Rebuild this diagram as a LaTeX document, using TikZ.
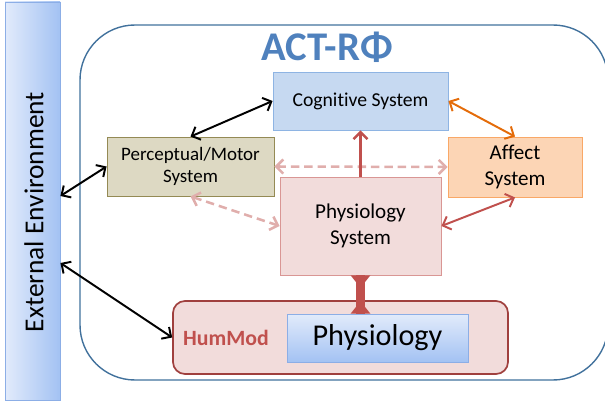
\documentclass[tikz,border=0pt]{standalone}
\usepackage{fontspec}
\setmainfont{Carlito}[Ligatures=NoCommon]
\usetikzlibrary{positioning, arrows.meta, calc}
\definecolor{envlight}{HTML}{E2EBFB}
\definecolor{envdark}{HTML}{A3C2F3}
\definecolor{envborder}{HTML}{8CAEE6}
\definecolor{frame}{HTML}{41719C}
\definecolor{titleblue}{HTML}{4F81BD}
\definecolor{cogfill}{HTML}{C6D9F1}
\definecolor{cogborder}{HTML}{8EB4E3}
\definecolor{pmfill}{HTML}{DDD9C3}
\definecolor{pmborder}{HTML}{948A54}
\definecolor{afffill}{HTML}{FCD5B5}
\definecolor{affborder}{HTML}{F9A867}
\definecolor{physfill}{HTML}{F2DCDB}
\definecolor{physborder}{HTML}{D99694}
\definecolor{humborder}{HTML}{A0403E}
\definecolor{physred}{HTML}{C0504D}
\definecolor{affarrow}{HTML}{E46C0A}
\definecolor{dashpink}{HTML}{E0AEAC}

\begin{document}
\begin{tikzpicture}[
  sysbox/.style={rectangle, draw, line width=0.6pt, align=center, inner sep=2pt},
  link/.style={line width=1.4pt, {Straight Barb[length=5pt,width=10pt]}-{Straight Barb[length=5pt,width=10pt]}},
  softlink/.style={link, color=dashpink, line width=1.8pt, dash pattern=on 6pt off 3.5pt}
]
  \useasboundingbox (0,0) rectangle (15.125,10.1);
  \clip (0,0) rectangle (15.125,10.1);
  % environment bar and model frame
  \node[rectangle, draw=envborder, line width=0.6pt, left color=envlight, right color=envdark,
    minimum width=1.375cm, minimum height=9.95cm] (env) at (0.8125,5.075) {};
  \node[rotate=90, font=\fontsize{19.5}{23}\selectfont] (envtxt) at (0.85,4.8) {External Environment};
  \draw[frame, line width=1pt, rounded corners=1.375cm] (2.0,0.6) rectangle (15.2,9.475);
  \node[font=\fontsize{29}{32}\selectfont\bfseries, color=titleblue] (title) at (8.175,8.925) {ACT-RΦ};
  % subsystems
  \node[sysbox, draw=cogborder, fill=cogfill, minimum width=4.375cm, minimum height=1.45cm,
    font=\fontsize{14}{16}\selectfont] (cog) at (9.0125,7.575) {Cognitive System};
  \node[sysbox, draw=pmborder, fill=pmfill, minimum width=4.175cm, minimum height=1.475cm,
    font=\fontsize{13.5}{16}\selectfont] (pm) at (4.7625,5.9375) {Perceptual/Motor\\System};
  \node[sysbox, draw=affborder, fill=afffill, minimum width=3.35cm, minimum height=1.5cm,
    font=\fontsize{15}{18}\selectfont] (aff) at (12.875,5.925) {Affect\\System};
  \node[sysbox, draw=physborder, fill=physfill, minimum width=4.025cm, minimum height=2.45cm,
    font=\fontsize{15}{19}\selectfont] (phys) at (9.0125,4.45) {Physiology\\System};
  \node[rectangle, rounded corners=0.3cm, draw=humborder, fill=physfill, line width=1.2pt,
    minimum width=8.375cm, minimum height=1.825cm] (hum) at (8.5125,1.6625) {};
  \node[font=\fontsize{15.5}{18}\selectfont\bfseries, color=physred] (humlbl) at (5.65,1.65) {HumMod};
  \node[rectangle, draw=envborder, line width=0.6pt, top color=envlight, bottom color=envdark,
    minimum width=4.525cm, minimum height=1.2cm, font=\fontsize{21.5}{24}\selectfont] (model) at (9.4375,1.65) {Physiology};
  % connectors
  \draw[softlink] (pm.east) -- (aff.west);
  \draw[softlink] (pm.south) -- (phys.west);
  \draw[link] (pm.north) -- (cog.west);
  \draw[link] ([yshift=0.125cm]env.east) -- (pm.west);
  \draw[link] ([yshift=-1.55cm]env.east) -- (hum.west);
  \draw[link, affarrow] (cog.east) -- (aff.north);
  \draw[link, physred] (aff.south) -- (phys.east);
  \draw[line width=1.7pt, physred, -{Straight Barb[length=5pt,width=10pt]}] (phys.north) -- (cog.south);
  % coupling bar between the two physiology parts
  \coordinate (barend) at (phys.south |- model.north);
  \draw[physred, line width=6pt] (phys.south) -- (barend);
  \fill[physred] ([xshift=-7pt]phys.south) -- ([xshift=7pt]phys.south)
    -- ([xshift=3pt,yshift=-5pt]phys.south) -- ([xshift=-3pt,yshift=-5pt]phys.south) -- cycle;
  \fill[physred] ([xshift=-7pt]barend) -- ([xshift=7pt]barend)
    -- ([xshift=3pt,yshift=5pt]barend) -- ([xshift=-3pt,yshift=5pt]barend) -- cycle;
\end{tikzpicture}
\end{document}
